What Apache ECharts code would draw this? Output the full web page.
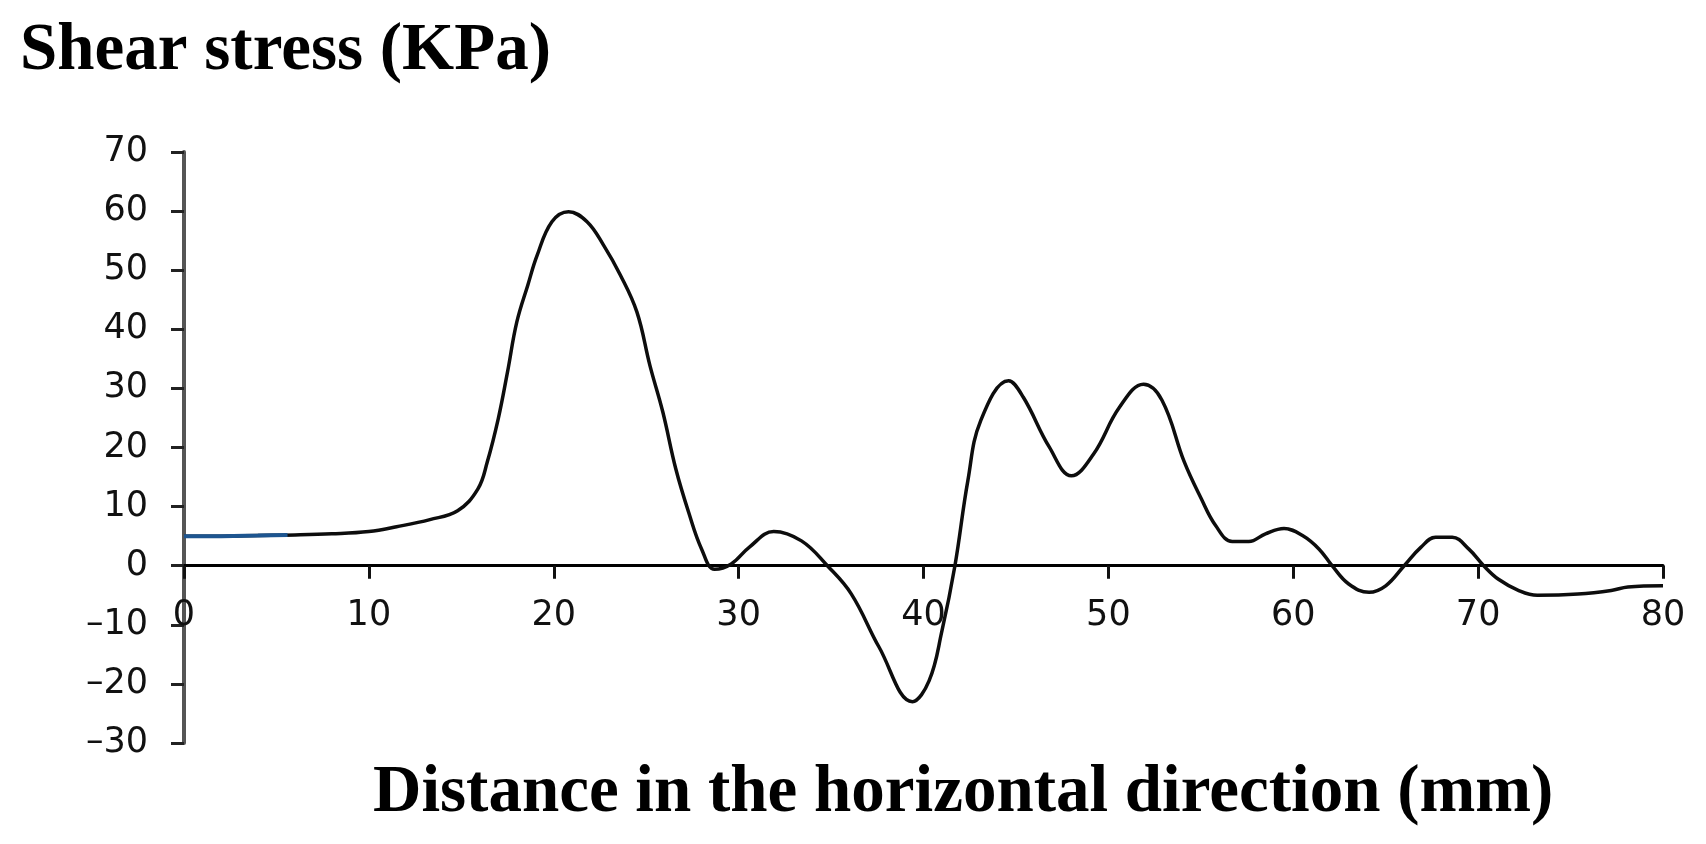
<!DOCTYPE html>
<html>
<head>
<meta charset="utf-8">
<title>Shear stress</title>
<script src="https://cdn.jsdelivr.net/npm/echarts@6/dist/echarts.min.js"></script>
<style>
  html, body { margin: 0; padding: 0; background: #fff; }
  #chart { width: 1706px; height: 844px; }
</style>
</head>
<body>
<div id="chart"></div>
<script>
// distance along the horizontal direction (mm)
const distance = [0, 2, 4, 6, 8, 10, 11.5, 13.3, 14.8, 15.9, 16.4, 17.0, 17.5, 18.0, 18.6, 19.1, 19.9, 20.8, 21.8, 22.7,
  23.6, 24.5, 25.2, 25.9, 26.6, 27.3, 28.0, 28.7, 29.6, 30.6, 31.9, 33.4, 34.8, 36.1, 37.6, 39.4, 40.3, 41.0, 41.7, 42.4,
  43.1, 44.6, 45.4, 46.8, 48.0, 49.2, 50.6, 51.9, 52.9, 54.1, 55.0, 55.8, 56.7, 57.6, 58.5, 59.5, 60.5, 61.4, 62.1, 63.0,
  64.1, 65.0, 66.0, 66.9, 67.7, 68.6, 69.5, 70.3, 71.1, 72.2, 73.2, 75.4, 77.2, 78.1, 80]
// shear stress (KPa)
const stress = [5.0, 5.0, 5.1, 5.2, 5.4, 5.8, 6.6, 7.8, 9.3, 13.0, 17.5, 24.9, 32.8, 41.2, 47.5, 52.5, 58.2, 59.9, 58.2, 54.2,
  49.2, 42.9, 33.9, 26.0, 16.4, 9.0, 2.8, -0.6, 0.3, 3.2, 5.8, 4.2, 0, -4.8, -13.8, -23.0, -19.5, -11.0, 0, 14.4,
  24.6, 31.3, 28.5, 20.1, 15.2, 18.9, 26.8, 30.7, 28.0, 17.6, 11.5, 6.8, 4.1, 4.1, 5.4, 6.3, 5.1, 2.8, 0, -3.1,
  -4.5, -3.4, 0, 3.1, 4.8, 4.8, 2.8, 0, -2.3, -4.2, -5.0, -4.8, -4.2, -3.6, -3.4]
// the first part of the flat run is drawn blue in the picture
const blueRun = [[0, 5.0], [2, 5.0], [4, 5.1], [5.6, 5.2]]
const xTicks = { min: 0, max: 80, step: 10 }
const yTicks = { min: -30, max: 70, step: 10 }

let chart = echarts.init(document.getElementById('chart'))
const labelFont = {
  color: '#111',
  fontFamily: 'DejaVu Sans',
  fontSize: 35,
  formatter: v => String(v).replace('-', '\u2013')
}

chart.setOption({
  animation: false,
  title: [
    {
      text: 'Shear stress (KPa)',
      left: 15,
      top: 13,
      textStyle: { fontFamily: 'Liberation Serif', fontWeight: 'bold', fontSize: 67, lineHeight: 67, color: '#000' }
    },
    {
      text: 'Distance in the horizontal direction (mm)',
      left: 368,
      top: 755,
      textStyle: { fontFamily: 'Liberation Serif', fontWeight: 'bold', fontSize: 67, lineHeight: 67, color: '#000' }
    }
  ],
  grid: { left: 184, right: 43, top: 152, bottom: 101, containLabel: false },
  xAxis: {
    type: 'value',
    min: xTicks.min,
    max: xTicks.max,
    interval: xTicks.step,
    axisLine: { show: true, onZero: true, lineStyle: { color: '#000', width: 3 } },
    axisTick: { show: true, length: 13, lineStyle: { color: '#111', width: 3 } },
    // labels sit just under the zero line, not under the grid bottom
    axisLabel: Object.assign({ margin: -145 }, labelFont),
    splitLine: { show: false }
  },
  yAxis: {
    type: 'value',
    min: yTicks.min,
    max: yTicks.max,
    interval: yTicks.step,
    axisLine: { show: true, onZero: false, lineStyle: { color: '#555', width: 4 } },
    axisTick: { show: true, length: 13, lineStyle: { color: '#222', width: 3 } },
    axisLabel: Object.assign({ margin: 36 }, labelFont),
    splitLine: { show: false }
  },
  series: [
    {
      type: 'line',
      data: distance.map((d, i) => [d, stress[i]]),
      smooth: 0.4,
      showSymbol: false,
      lineStyle: { width: 3.5, color: '#0d0d0d' }
    },
    {
      type: 'line',
      data: blueRun,
      showSymbol: false,
      lineStyle: { width: 4, color: '#1d5590' }
    }
  ]
})
</script>
</body>
</html>
